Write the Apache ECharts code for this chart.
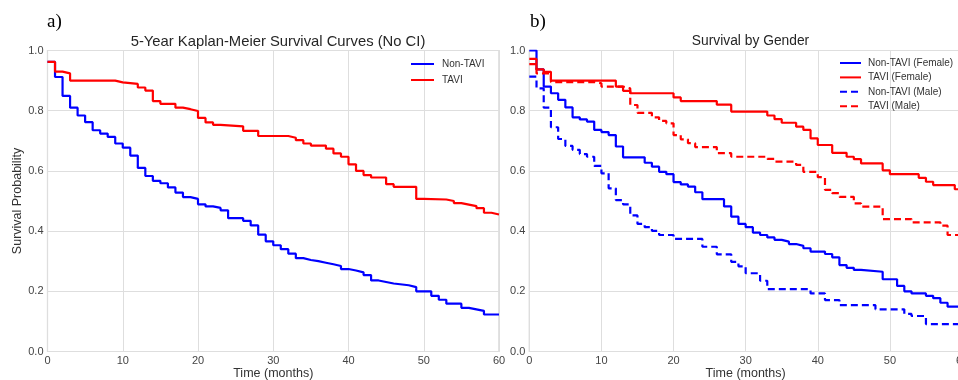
<!DOCTYPE html>
<html>
<head>
<meta charset="utf-8">
<script src="https://cdn.jsdelivr.net/npm/echarts@6/dist/echarts.min.js"></script>
<style>
html,body{margin:0;padding:0;background:#fff;}
#chart{width:958px;height:380px;}
</style>
</head>
<body>
<div id="chart"></div>
<script>
// ---- Data ----
// Panel a) overall Kaplan-Meier curves: event times (months) and survival after each step
var nonTaviTimes = [0,1,2,3,4,5,6,7,8,9,10,11,12,13,14,15,16,17,18,19,20,21,22,23,24,26,27,28,29,30,31,32,33,34,35,36,37,38,39,40,41,42,43,44,45,46,48,49,51,52,53,55,56,57,58,60];
var nonTaviSurv  = [0.962,0.912,0.849,0.81,0.784,0.762,0.735,0.724,0.713,0.691,0.677,0.651,0.61,0.583,0.567,0.559,0.545,0.528,0.513,0.507,0.489,0.482,0.477,0.469,0.443,0.434,0.419,0.388,0.366,0.353,0.34,0.325,0.31,0.304,0.3,0.295,0.29,0.284,0.274,0.269,0.263,0.254,0.236,0.231,0.226,0.22,0.214,0.2,0.185,0.172,0.159,0.145,0.14,0.135,0.123,0.123];
var taviTimes = [0,1,2,3,9,10,12,13,14,15,17,18,19,20,21,22,23,26,28,32,33,34,35,37,38,39,40,41,42,43,45,46,49,50,53,54,55,56,57,58,59,60];
var taviSurv  = [0.962,0.93,0.924,0.9,0.894,0.889,0.877,0.867,0.832,0.823,0.81,0.805,0.799,0.776,0.761,0.753,0.748,0.733,0.716,0.71,0.702,0.691,0.684,0.674,0.658,0.647,0.622,0.6,0.586,0.578,0.556,0.547,0.507,0.505,0.5,0.493,0.488,0.483,0.476,0.461,0.455,0.455];

// Panel b) survival by gender
var nonTaviFemaleTimes = [0,1,2,3,4,5,6,7,8,9,10,11,12,13,16,17,18,19,20,21,22,23,24,27,28,29,30,31,32,33,34,35,36,37,38,39,41,42,43,44,45,46,49,51,52,53,55,56,57,58,60];
var nonTaviFemaleSurv  = [1.0,0.937,0.88,0.858,0.836,0.811,0.778,0.771,0.764,0.736,0.729,0.719,0.681,0.645,0.627,0.614,0.597,0.589,0.563,0.555,0.548,0.529,0.506,0.482,0.448,0.424,0.413,0.395,0.387,0.379,0.371,0.365,0.357,0.351,0.343,0.332,0.324,0.313,0.287,0.278,0.271,0.265,0.24,0.218,0.2,0.193,0.185,0.177,0.162,0.149,0.149];
var taviFemaleTimes = [0,1,2,3,12,13,14,20,21,26,28,33,34,35,37,38,39,40,42,44,45,46,49,50,54,55,56,59,60];
var taviFemaleSurv  = [0.972,0.937,0.929,0.9,0.88,0.866,0.858,0.844,0.832,0.82,0.797,0.784,0.772,0.76,0.747,0.736,0.708,0.686,0.66,0.647,0.639,0.625,0.602,0.589,0.577,0.564,0.553,0.539,0.539];
var nonTaviMaleTimes = [0,1,2,3,4,5,6,7,8,9,10,11,12,13,14,15,16,17,18,20,24,26,28,29,30,32,33,39,41,43,48,52,53,55,60];
var nonTaviMaleSurv  = [0.913,0.874,0.81,0.745,0.706,0.683,0.67,0.656,0.647,0.617,0.592,0.542,0.503,0.489,0.452,0.424,0.413,0.401,0.387,0.374,0.348,0.323,0.298,0.283,0.26,0.235,0.207,0.193,0.171,0.154,0.14,0.125,0.118,0.091,0.091];
var taviMaleTimes = [0,1,3,9,10,13,14,15,17,18,19,20,21,22,23,26,28,33,34,37,38,40,41,42,43,45,46,49,53,57,58,60];
var taviMaleSurv  = [0.955,0.924,0.895,0.891,0.88,0.874,0.819,0.793,0.778,0.766,0.758,0.719,0.705,0.692,0.679,0.659,0.647,0.64,0.631,0.62,0.597,0.579,0.537,0.526,0.514,0.492,0.481,0.44,0.429,0.418,0.387,0.387];

var xTicks = [0,10,20,30,40,50,60];
var yTicks = [0.0,0.2,0.4,0.6,0.8,1.0];

function pairs(t, s){ return t.map(function(v,i){ return [v, s[i]]; }); }

var BLUE = '#0000ff', RED = '#ff0000';
var tickFont = {fontFamily:'Liberation Sans', fontSize:11, color:'#444'};

function xAxisCfg(gi){
  return {
    gridIndex: gi, type:'value', min:xTicks[0], max:xTicks[xTicks.length-1], interval:10,
    name:'Time (months)', nameLocation:'middle', nameGap:16, nameMoveOverlap:false,
    nameTextStyle:{fontFamily:'Liberation Sans', fontSize:12.5, color:'#333'},
    axisLine:{show:false}, axisTick:{show:false},
    axisLabel:Object.assign({margin:4}, tickFont),
    splitLine:{show:true, lineStyle:{color:'#dedede', width:1}}
  };
}
function yAxisCfg(gi, withName){
  return {
    gridIndex: gi, type:'value', min:yTicks[0], max:yTicks[yTicks.length-1], interval:0.2,
    name: withName ? 'Survival Probability' : '', nameLocation:'middle', nameGap:23, nameMoveOverlap:false,
    nameTextStyle:{fontFamily:'Liberation Sans', fontSize:12.5, color:'#333'},
    axisLine:{show:false}, axisTick:{show:false},
    axisLabel:Object.assign({margin:4, formatter:function(v){return v.toFixed(1);}}, tickFont),
    splitLine:{show:true, lineStyle:{color:'#dedede', width:1}}
  };
}
function stepSeries(name, data, color, dashed, xi, yi){
  return {
    name:name, type:'line', step:'end', data:data, xAxisIndex:xi, yAxisIndex:yi,
    symbol:'none', showSymbol:false, clip:true,
    lineStyle:{color:color, width:2.2, type: dashed ? [7,4] : 'solid'},
    itemStyle:{color:color}, emphasis:{disabled:true}
  };
}

var chart = echarts.init(document.getElementById('chart'), null, {renderer:'canvas'});
chart.setOption({
  animation:false,
  backgroundColor:'#ffffff',
  title:[
    {text:'a)', left:42, top:8, textStyle:{fontFamily:'Liberation Serif', fontSize:19, fontWeight:'normal', color:'#000'}},
    {text:'b)', left:525, top:8, textStyle:{fontFamily:'Liberation Serif', fontSize:19, fontWeight:'normal', color:'#000'}},
    {text:'5-Year Kaplan-Meier Survival Curves (No CI)', left:273, textAlign:'center', top:29, textStyle:{fontFamily:'Liberation Sans', fontSize:14.8, fontWeight:'normal', color:'#262626'}},
    {text:'Survival by Gender', left:745.5, textAlign:'center', top:29, textStyle:{fontFamily:'Liberation Sans', fontSize:13.8, fontWeight:'normal', color:'#262626'}}
  ],
  grid:[
    {left:47.5, top:50.5, width:451.5, height:301, containLabel:false, outerBoundsMode:'none', show:true, borderColor:'#cfcfcf', borderWidth:1.2, backgroundColor:'transparent'},
    {left:529.3, top:50.5, width:432.7, height:301, containLabel:false, outerBoundsMode:'none', show:true, borderColor:'#cfcfcf', borderWidth:1.2, backgroundColor:'transparent'}
  ],
  xAxis:[xAxisCfg(0), xAxisCfg(1)],
  yAxis:[yAxisCfg(0,true), yAxisCfg(1,false)],
  legend:[
    {data:['Non-TAVI','TAVI'], orient:'vertical', left:405, top:54, itemWidth:23, itemHeight:12, itemGap:6,
     itemStyle:{opacity:0},
     textStyle:{fontFamily:'Liberation Sans', fontSize:10, color:'#333', padding:[0,0,0,3]}},
    {data:['Non-TAVI (Female)','TAVI (Female)','Non-TAVI (Male)','TAVI (Male)'], orient:'vertical', left:834, top:53, itemWidth:21, itemHeight:11, itemGap:4.4,
     itemStyle:{opacity:0},
     textStyle:{fontFamily:'Liberation Sans', fontSize:10, color:'#333', padding:[0,0,0,2]}}
  ],
  series:[
    stepSeries('Non-TAVI', pairs(nonTaviTimes, nonTaviSurv), BLUE, false, 0, 0),
    stepSeries('TAVI', pairs(taviTimes, taviSurv), RED, false, 0, 0),
    stepSeries('Non-TAVI (Female)', pairs(nonTaviFemaleTimes, nonTaviFemaleSurv), BLUE, false, 1, 1),
    stepSeries('TAVI (Female)', pairs(taviFemaleTimes, taviFemaleSurv), RED, false, 1, 1),
    stepSeries('Non-TAVI (Male)', pairs(nonTaviMaleTimes, nonTaviMaleSurv), BLUE, true, 1, 1),
    stepSeries('TAVI (Male)', pairs(taviMaleTimes, taviMaleSurv), RED, true, 1, 1)
  ]
});
</script>
</body>
</html>
